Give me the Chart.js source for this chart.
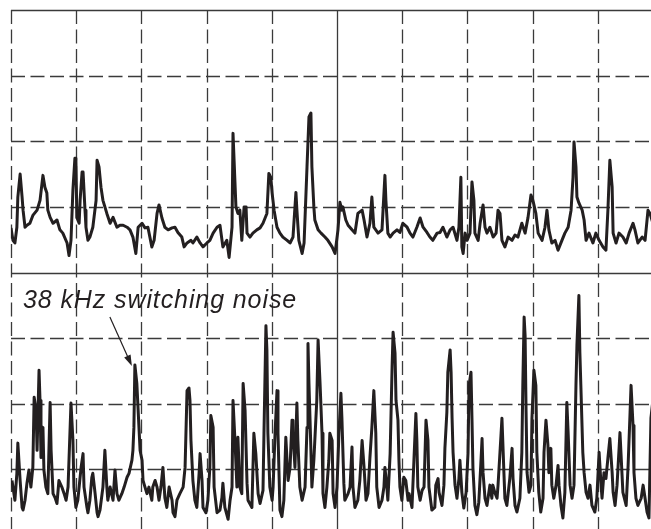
<!DOCTYPE html>
<html>
<head>
<meta charset="utf-8">
<script src="https://cdn.jsdelivr.net/npm/chart.js@4.4.1/dist/chart.umd.min.js"></script>
<style>
  html, body { margin: 0; padding: 0; background: #ffffff; overflow: hidden; }
  #wrap { position: relative; width: 673px; height: 545px; }
  #label {
    position: absolute; left: 23px; top: 287px;
    font-family: "Liberation Sans", Arial, sans-serif;
    font-style: italic; font-size: 25px; line-height: 25px;
    letter-spacing: 0.9px;
    color: #231f20; white-space: nowrap;
  }
</style>
</head>
<body>
<div id="wrap">
  <canvas id="spectrum" width="673" height="545"></canvas>
  <div id="label">38 kHz switching noise</div>
</div>
<script>
// frequency axis in kHz (20 kHz/div), level axis in dB (10 dB/div)
const freqTicks = [0, 20, 40, 60, 80, 100, 120, 140, 160, 180, 200];
const levelTicks = [0, 10, 20, 30, 40, 50, 60, 70, 80];

// upper trace
const upperFreq = [
  0.0,0.6,1.2,1.8,2.1,2.8,3.4,3.7,4.3,4.9,
  5.8,6.7,8.0,8.9,9.8,10.4,11.0,11.3,12.0,12.9,
  14.1,15.0,15.9,17.2,17.8,18.4,19.0,19.6,19.9,20.2,
  20.9,21.2,21.8,22.1,22.7,23.0,23.6,24.2,25.1,26.1,
  26.4,27.0,27.6,28.2,29.4,30.4,31.3,32.5,33.4,34.4,
  35.6,36.5,37.4,38.3,39.0,40.2,41.1,42.0,43.2,43.9,
  44.8,45.4,46.3,47.2,48.2,49.4,50.3,51.2,52.4,53.1,
  54.0,55.2,55.8,57.0,58.0,58.9,60.1,61.0,62.0,63.2,
  64.1,
  65.0,66.2,66.9,67.8,68.1,68.4,69.0,69.6,70.2,70.8,
  71.5,72.1,72.4,73.3,74.2,75.4,76.4,77.3,78.5,79.1,
  79.7,80.1,80.7,81.6,82.5,83.4,84.7,85.6,86.5,87.4,
  87.7,88.3,89.3,89.9,90.8,91.4,92.0,92.3,92.9,93.2,
  94.2,95.1,96.3,97.2,98.5,99.4,100.3,100.9,101.5,101.8,
  102.7,103.4,104.6,105.5,106.4,107.7,108.3,109.2,110.1,110.7,
  111.3,112.6,113.8,114.7,115.0,115.6,116.3,117.2,118.4,119.3,
  120.2,121.5,122.4,123.3,124.5,125.5,126.4,127.6,128.5,
  129.4,130.7,131.6,132.5,133.7,134.7,135.6,136.8,137.4,138.0,
  138.3,138.7,139.3,139.9,140.8,141.4,142.0,142.3,143.3,143.9,
  144.8,145.4,146.0,146.9,147.9,148.8,149.4,150.0,150.6,151.5,
  152.5,153.7,154.6,155.5,156.7,157.7,158.6,159.5,160.1,161.0,
  161.7,162.9,163.8,164.4,165.0,165.9,166.9,167.8,169.0,169.9,
  170.9,171.8,172.4,172.7,173.3,173.6,174.2,175.2,175.8,176.4,
  177.3,178.5,179.4,180.4,181.6,182.5,183.1,183.7,184.4,184.7,
  185.6,186.5,187.7,188.7,189.6,190.8,191.4,192.3,193.6,194.5,
  195.4,196.0,197.5,199.1,200.0
];
const upperLevel = [
  46.8,44.9,44.5,46.9,51.5,55.0,51.5,49.5,46.9,47.2,
  47.5,48.7,49.5,51.0,54.8,53.0,52.1,49.5,48.4,47.5,
  48.0,46.5,46.0,44.5,42.6,44.9,52.6,57.4,57.4,48.4,
  47.5,51.0,55.3,55.3,49.5,46.9,44.9,45.4,46.9,51.0,
  57.1,56.1,53.0,51.0,49.0,47.5,48.4,46.9,47.2,47.2,
  46.9,46.5,45.4,42.9,46.9,47.5,46.8,46.9,43.9,44.9,
  49.0,50.3,48.3,46.9,46.5,46.8,46.9,46.1,45.4,43.9,
  44.5,44.9,44.5,45.4,44.5,43.9,44.5,44.9,46.0,46.9,
  47.2,
  43.9,44.9,42.3,46.9,61.2,61.2,50.0,49.0,49.5,44.9,
  50.0,50.0,46.0,45.4,46.0,46.5,46.8,47.5,49.0,55.1,
  54.5,52.1,49.5,46.9,46.0,45.4,44.9,44.5,45.4,52.2,
  49.5,44.9,42.9,44.5,56.1,63.7,64.3,56.1,50.0,48.0,
  46.5,46.0,45.4,44.9,43.9,42.9,46.5,50.7,49.5,50.0,
  48.0,47.2,46.5,46.0,49.0,49.5,48.0,45.4,47.5,51.5,
  46.9,46.0,46.5,54.8,51.0,46.0,45.4,46.0,46.5,46.1,
  47.5,46.9,46.0,45.4,46.9,48.3,46.9,46.1,45.4,
  44.9,46.0,46.1,46.9,45.4,46.5,46.9,44.9,46.9,54.5,
  43.9,42.9,46.0,44.9,46.0,53.8,51.0,46.0,44.9,47.5,
  50.3,46.9,46.0,46.9,45.4,46.0,49.5,49.0,44.9,43.9,
  45.4,44.9,45.7,45.4,47.5,46.0,48.4,51.8,51.0,49.0,
  46.0,44.9,46.9,49.5,46.5,44.5,44.9,43.4,44.9,46.0,
  46.9,49.5,54.5,59.9,56.1,51.5,50.6,49.5,48.0,44.9,
  46.0,44.5,46.0,44.9,43.9,43.4,49.5,57.1,53.0,46.0,
  44.5,46.0,45.4,44.5,46.0,47.5,46.5,44.5,45.4,44.9,
  49.5,49.0,46.5,45.4,45.7
];

// lower trace
const lowerFreq = [
  0.3,0.6,1.2,1.8,2.1,2.8,3.4,3.7,4.3,4.9,
  5.5,6.1,6.7,7.1,7.7,8.0,8.6,8.9,9.2,9.8,
  10.1,10.7,11.3,12.0,12.3,12.9,13.5,14.1,14.7,15.6,
  16.3,16.9,17.5,18.4,19.0,19.3,19.9,20.5,21.5,22.1,
  22.4,23.3,23.6,24.2,24.8,25.1,25.8,26.4,26.7,27.3,
  28.2,28.8,29.4,29.7,30.4,31.3,31.9,32.5,33.1,34.0,
  34.7,35.6,36.2,37.1,37.4,37.7,38.0,38.6,39.3,39.6,
  40.2,40.5,41.1,41.7,42.3,43.2,43.5,44.2,44.8,45.4,
  46.0,46.6,47.2,47.8,48.5,49.4,49.7,50.3,50.9,51.8,
  52.8,53.4,54.0,54.6,54.9,55.2,55.8,56.4,57.0,57.7,
  58.0,58.6,58.9,59.8,60.4,61.0,61.3,62.0,62.3,63.2,
  64.1,
  64.7,65.0,65.6,66.6,67.2,67.8,68.1,68.7,69.3,69.6,
  70.2,70.8,71.2,71.8,72.4,72.7,73.9,74.5,75.1,75.8,
  76.4,77.3,77.6,78.2,78.5,78.8,79.4,80.1,80.4,81.0,
  81.6,81.9,82.5,83.1,83.7,84.3,85.0,85.6,86.2,86.5,
  87.1,87.7,88.0,88.6,89.3,90.2,90.8,91.1,91.4,92.0,
  92.3,92.9,93.8,94.2,94.8,95.4,95.7,96.3,96.9,97.5,
  97.8,98.5,98.8,99.4,100.0,100.6,101.2,101.5,102.1,102.4,
  103.4,104.0,104.6,104.9,105.5,106.4,107.0,107.7,108.3,108.9,
  109.5,110.1,110.7,111.3,111.9,112.2,112.9,113.8,114.4,114.7,
  115.3,115.6,116.3,116.9,117.2,117.8,118.1,118.7,119.0,119.3,
  119.9,120.5,121.1,121.8,122.1,123.0,123.6,124.2,124.5,124.8,
  125.5,126.1,126.7,127.3,127.9,128.2,129.1,130.0,
  130.3,131.0,131.3,132.2,132.8,133.1,133.7,134.0,134.7,135.0,
  135.3,135.6,136.2,136.8,137.4,137.7,138.3,138.9,139.6,140.2,
  140.5,141.1,141.4,141.7,142.3,142.9,143.5,144.1,144.5,144.8,
  145.4,146.0,146.9,147.5,147.8,148.4,149.1,149.4,150.3,150.6,
  151.2,151.5,152.1,153.0,153.7,154.0,154.6,155.2,156.1,156.7,
  157.0,157.4,157.7,158.0,158.3,158.9,159.5,159.8,160.4,161.0,
  161.3,161.9,162.5,163.2,163.5,164.1,164.7,165.0,165.6,165.9,
  166.5,167.2,167.8,168.1,168.7,169.3,169.9,170.5,170.9,171.5,
  172.1,172.7,173.3,173.6,174.2,174.5,174.8,175.4,175.8,176.4,
  177.0,177.6,178.2,179.1,179.7,180.4,181.0,181.3,181.9,182.5,
  183.1,183.7,184.4,184.7,185.3,185.9,186.8,187.4,187.7,188.7,
  189.3,189.9,190.2,190.8,191.1,191.7,192.3,193.3,193.9,194.5,
  195.1,195.7,196.3,196.9,197.8,199.1,200.0
];
const lowerLevel = [
  8.3,7.3,5.3,9.4,14.0,8.3,4.2,3.8,5.3,7.9,
  9.9,7.3,10.3,21.0,19.0,12.9,25.1,20.5,11.8,16.4,
  9.9,7.3,6.3,20.2,12.9,6.3,5.7,4.8,8.3,7.3,
  6.3,5.3,7.3,20.1,14.4,7.3,4.2,5.3,10.3,12.4,
  7.3,4.2,3.4,5.3,8.8,9.4,6.3,3.4,2.8,3.8,
  7.3,12.9,7.3,5.3,7.3,5.3,9.9,6.3,5.3,6.3,
  7.3,8.8,9.4,11.4,12.9,16.4,25.9,23.1,15.9,12.9,
  11.4,8.3,7.3,6.3,7.3,5.3,7.3,8.3,7.3,5.3,
  7.3,10.3,5.7,4.2,7.3,5.3,3.4,2.8,5.3,6.3,
  7.3,10.3,22.0,22.4,20.5,14.4,8.3,5.3,4.2,9.4,
  12.4,8.3,4.2,3.4,5.3,10.3,18.2,16.4,7.3,3.4,
  3.8,
  5.7,7.9,4.2,2.4,5.3,7.3,20.5,14.4,7.3,14.9,
  7.3,6.3,23.1,19.0,7.9,5.3,4.2,15.5,12.4,6.3,
  4.8,6.8,15.5,31.9,28.2,15.5,7.3,5.3,7.3,15.5,
  22.0,15.5,3.8,2.8,5.3,14.9,8.3,10.3,17.5,15.5,
  10.3,20.1,14.4,7.3,5.3,7.3,16.4,29.2,23.1,12.9,
  7.3,11.4,20.5,29.7,23.1,15.5,6.3,4.2,7.3,11.4,
  15.5,14.4,6.3,4.2,7.3,15.5,21.6,17.9,7.9,5.3,
  6.3,7.3,13.4,7.3,4.2,5.3,8.3,14.4,10.3,5.3,
  6.3,11.8,16.4,22.0,15.5,7.3,4.2,5.3,7.3,10.3,
  7.3,5.3,12.4,25.6,30.9,27.7,20.5,17.5,11.4,7.3,
  5.3,8.8,8.3,5.3,6.3,4.2,11.4,18.5,14.4,7.3,
  5.3,6.8,7.3,17.5,14.4,7.3,3.8,4.2,
  7.6,8.6,6.5,4.5,7.6,13.2,18.7,24.8,28.2,24.8,
  17.8,12.6,7.6,5.6,8.6,11.4,6.5,4.1,6.5,12.6,
  22.8,24.8,17.8,10.2,4.5,3.1,5.0,10.6,14.7,9.5,
  5.6,4.5,7.6,5.6,7.6,6.5,5.6,7.6,15.2,17.8,
  9.5,5.6,4.5,8.6,13.2,8.6,4.5,3.5,5.6,12.6,
  22.8,33.2,30.4,18.7,9.5,6.5,7.6,17.8,25.1,22.8,
  12.6,6.5,3.5,5.6,12.6,17.5,13.7,9.5,13.2,7.6,
  5.6,7.6,10.6,7.6,4.5,2.6,6.5,20.2,15.6,7.6,
  5.6,7.6,22.8,28.9,36.5,27.8,22.8,12.6,9.5,6.5,
  5.6,7.6,4.5,3.5,5.6,12.6,7.6,5.6,9.5,8.6,
  11.7,14.7,9.5,6.5,4.5,7.6,15.6,9.5,6.5,4.5,
  10.6,18.7,22.8,16.7,9.5,5.6,4.5,5.6,7.6,5.6,
  3.5,2.6,17.8,20.5,9.9,5.3,6.0
];

const noiseFreq = 38.0;
const noiseLevel = 25.9;

const traceColor = '#231f20';
const gridColor = '#3a3a3a';

function toPoints(freqs, levels) {
  return freqs.map((f, i) => ({ x: f, y: levels[i] }));
}

// dashed graticule, solid centre lines and top edge
const graticule = {
  id: 'graticule',
  beforeDatasetsDraw(chart) {
    const { ctx, chartArea, scales } = chart;
    ctx.save();
    ctx.strokeStyle = gridColor;
    ctx.lineWidth = 1.3;
    freqTicks.forEach(f => {
      const x = Math.round(scales.x.getPixelForValue(f)) + 0.5;
      ctx.setLineDash(f === 100 ? [] : [14, 5.5]);
      ctx.beginPath();
      ctx.moveTo(x, chartArea.top);
      ctx.lineTo(x, chartArea.bottom);
      ctx.stroke();
    });
    levelTicks.forEach(l => {
      const y = Math.round(scales.y.getPixelForValue(l)) + 0.5;
      ctx.setLineDash(l === 40 || l === 80 ? [] : [14, 5.5]);
      ctx.beginPath();
      ctx.moveTo(chartArea.left, y);
      ctx.lineTo(chartArea.right, y);
      ctx.stroke();
    });
    ctx.restore();
  },
  afterDatasetsDraw(chart) {
    // arrow pointing at the 38 kHz peak
    const { ctx, scales } = chart;
    const tipX = scales.x.getPixelForValue(noiseFreq) - 3;
    const tipY = scales.y.getPixelForValue(noiseLevel) + 1;
    const tailX = tipX - 22;
    const tailY = tipY - 49;
    const ang = Math.atan2(tipY - tailY, tipX - tailX);
    ctx.save();
    ctx.strokeStyle = traceColor;
    ctx.fillStyle = traceColor;
    ctx.lineWidth = 1.2;
    ctx.beginPath();
    ctx.moveTo(tailX, tailY);
    ctx.lineTo(tipX - 8 * Math.cos(ang), tipY - 8 * Math.sin(ang));
    ctx.stroke();
    ctx.beginPath();
    ctx.moveTo(tipX, tipY);
    ctx.lineTo(tipX - 11 * Math.cos(ang) + 3.5 * Math.sin(ang), tipY - 11 * Math.sin(ang) - 3.5 * Math.cos(ang));
    ctx.lineTo(tipX - 11 * Math.cos(ang) - 3.5 * Math.sin(ang), tipY - 11 * Math.sin(ang) + 3.5 * Math.cos(ang));
    ctx.closePath();
    ctx.fill();
    ctx.restore();
  }
};

const traceStyle = {
  borderColor: traceColor,
  borderWidth: 3,
  borderJoinStyle: 'round',
  pointRadius: 0,
  tension: 0,
  fill: false
};

new Chart(document.getElementById('spectrum'), {
  type: 'line',
  data: {
    datasets: [
      Object.assign({ label: 'upper', data: toPoints(upperFreq, upperLevel) }, traceStyle),
      Object.assign({ label: 'lower', data: toPoints(lowerFreq, lowerLevel) }, traceStyle)
    ]
  },
  options: {
    responsive: false,
    animation: false,
    events: [],
    layout: { padding: { left: 11, top: 10, right: 10, bottom: 10 } },
    scales: {
      x: { type: 'linear', min: 0, max: 200, display: false },
      y: { type: 'linear', min: 0, max: 80, display: false }
    },
    plugins: {
      legend: { display: false },
      tooltip: { enabled: false }
    }
  },
  plugins: [graticule]
});
</script>
</body>
</html>
